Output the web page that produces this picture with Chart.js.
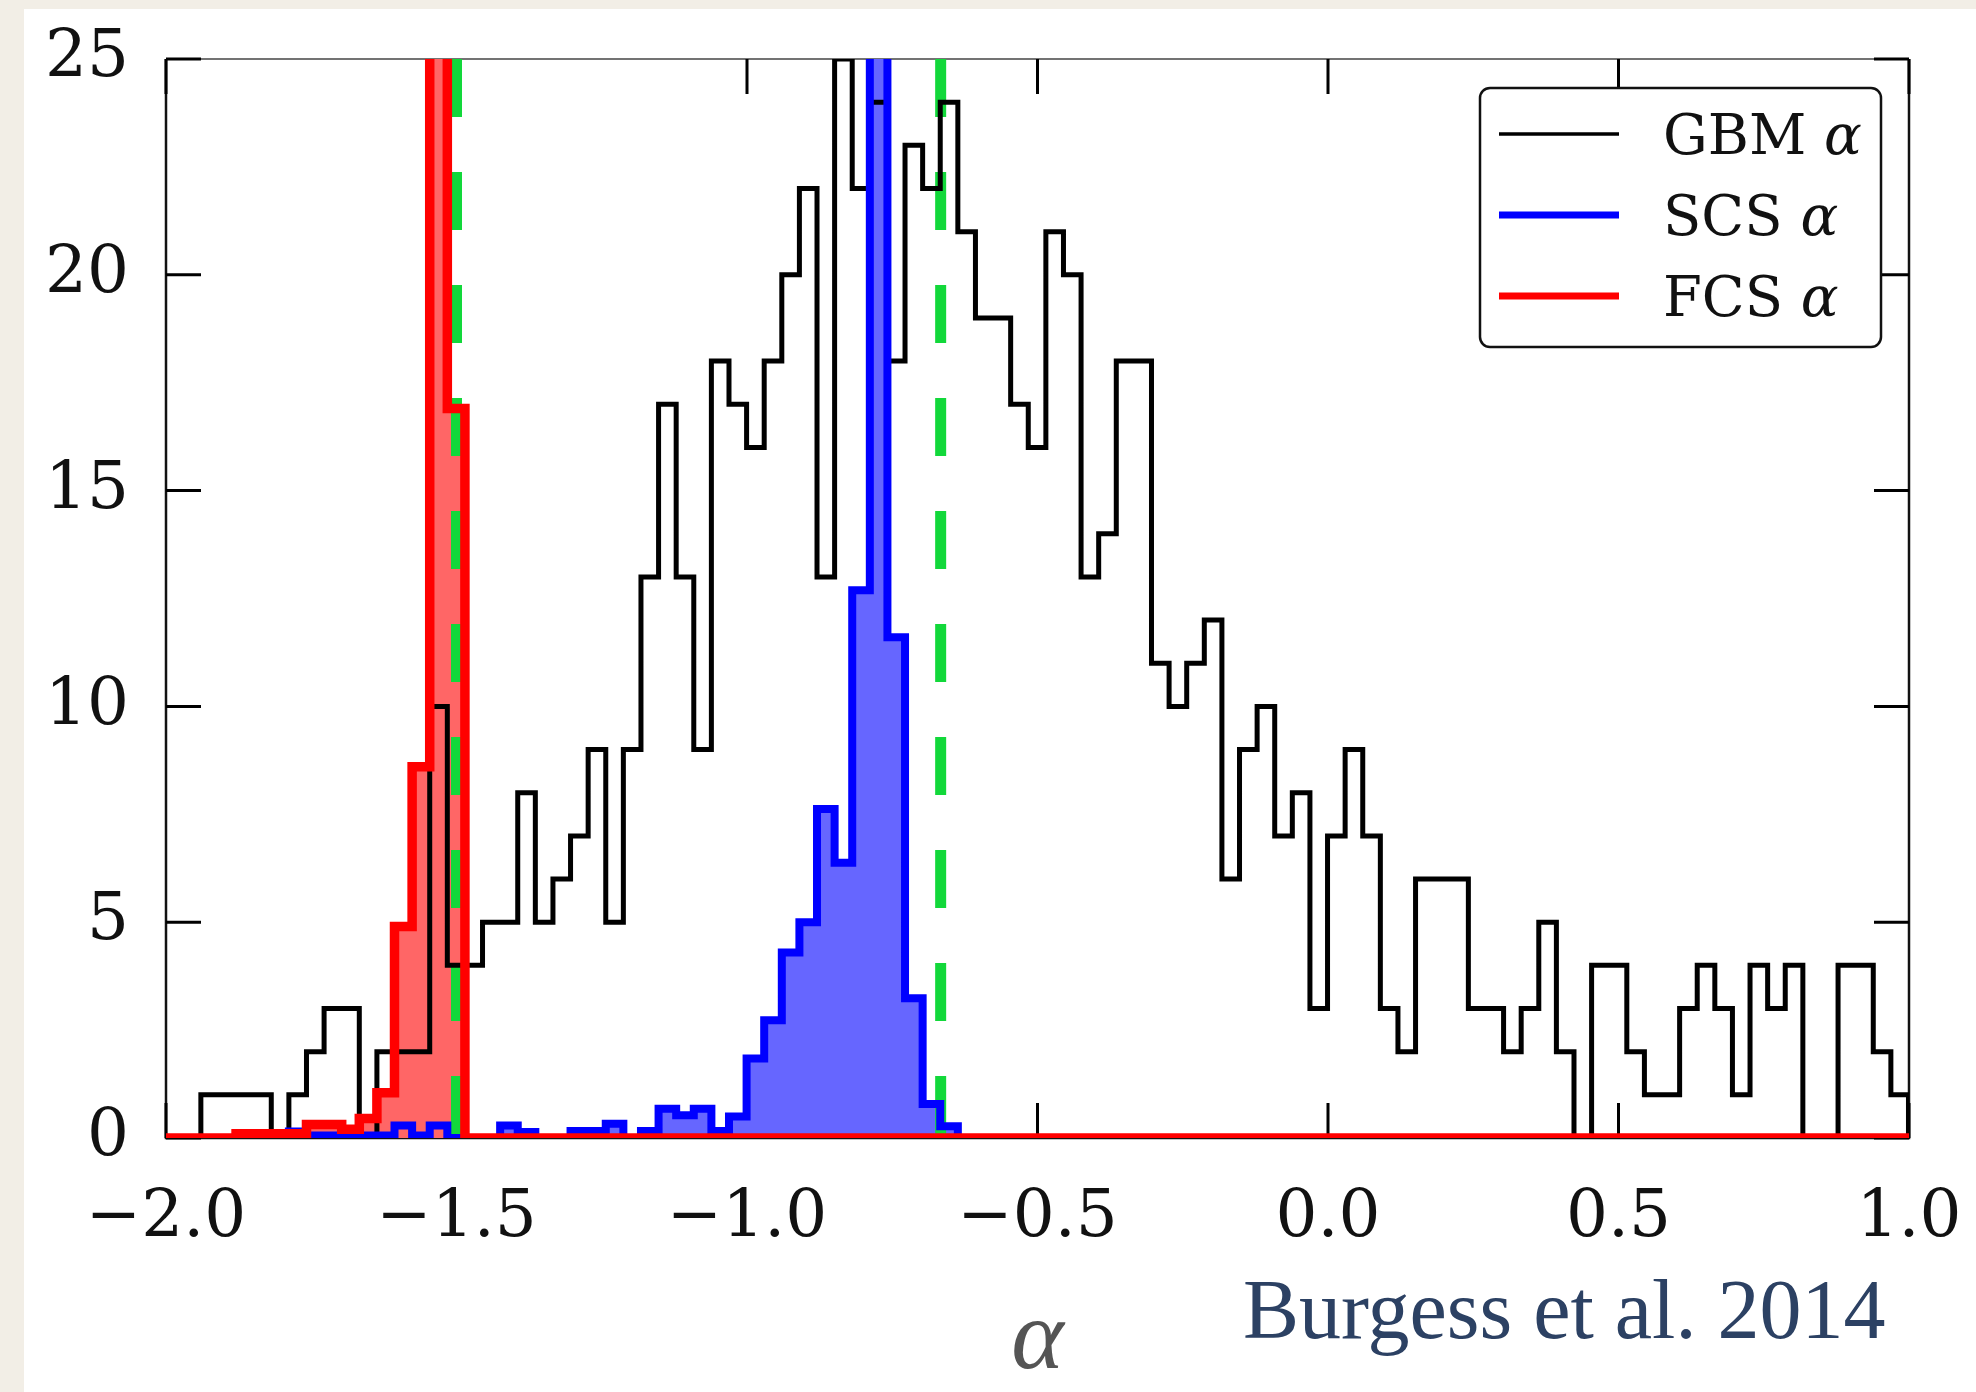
<!DOCTYPE html>
<html>
<head>
<meta charset="utf-8">
<title>Low-energy index distributions</title>
<script src="https://cdn.jsdelivr.net/npm/chart.js@4.4.1/dist/chart.umd.min.js"></script>
<style>
  html, body { margin: 0; padding: 0; background: #fff; }
  #wrap { position: relative; width: 1976px; height: 1392px; }
</style>
</head>
<body>
<div id="wrap"><canvas id="alphaChart" width="1976" height="1392"></canvas></div>
<script>
// binning shared by the three histograms
const binStart = -1.94;
const binWidth = 0.0303;

// GBM catalogue fits (counts per bin)
const gbmCounts = [
  1, 1, 1, 1, 0, 1, 2, 3, 3, 0,
  2, 2, 2, 10, 4, 4, 5, 5, 8, 5,
  6, 7, 9, 5, 9, 13, 17, 13, 9, 18,
  17, 16, 18, 20, 22, 13, 25, 22, 24, 18,
  23, 22, 24, 21, 19, 19, 17, 16, 21, 20,
  13, 14, 18, 18, 11, 10, 11, 12, 6, 9,
  10, 7, 8, 3, 7, 9, 7, 3, 2, 6,
  6, 6, 3, 3, 2, 3, 5, 2, 0, 4,
  4, 2, 1, 1, 3, 4, 3, 1, 4, 3,
  4, 0, 0, 4, 4, 2, 1
];

// slow-cooling synchrotron fits
const scsCounts = [
  0, 0, 0, 0, 0, 0.15, 0.06, 0.06, 0.06, 0.06,
  0.06, 0.29, 0.06, 0.29, 0, 0, 0, 0.29, 0.14, 0,
  0, 0.16, 0.16, 0.33, 0, 0.16, 0.68, 0.53, 0.68, 0.16,
  0.5, 1.84, 2.73, 4.3, 5.0, 7.62, 6.38, 12.69, 34, 11.6,
  3.24, 0.79, 0.27
];

// fast-cooling synchrotron fits
const fcsCounts = [
  0, 0, 0.1, 0.1, 0.1, 0.1, 0.31, 0.31, 0.2, 0.45,
  1.05, 4.9, 8.6, 30, 16.9
];

const deathLines = [-3 / 2, -2 / 3];
const xTicks = [-2.0, -1.5, -1.0, -0.5, 0.0, 0.5, 1.0];
const yTicks = [0, 5, 10, 15, 20, 25];
const seriesNames = ['GBM', 'SCS', 'FCS'];

const serif = 'DejaVu Serif';

// outline of a step histogram: rises at the first edge, drops after the last bin
function stepPoints(counts, padTo) {
  const pts = [];
  if (padTo) pts.push({ x: padTo[0], y: 0 });
  pts.push({ x: binStart, y: 0 });
  counts.forEach((c, i) => pts.push({ x: binStart + i * binWidth, y: c }));
  pts.push({ x: binStart + counts.length * binWidth, y: 0 });
  if (padTo) pts.push({ x: padTo[1], y: 0 });
  return pts;
}

const fmtX = v => v.toFixed(1).replace('-', '\u2212');

// frame with inward ticks on all four sides
const frameTicks = {
  id: 'frameTicks',
  beforeDraw(chart) {
    const { ctx, width, height } = chart;
    ctx.save();
    ctx.fillStyle = '#ffffff';
    ctx.fillRect(0, 0, width, height);
    ctx.fillStyle = '#f2eee6';
    ctx.fillRect(0, 0, 24, height);
    ctx.fillRect(0, 0, width, 9);
    ctx.restore();
  },
  beforeDatasetsDraw(chart) {
    const { ctx, chartArea: a, scales } = chart;
    const len = 35;
    ctx.save();
    ctx.strokeStyle = '#111';
    ctx.lineWidth = 2.5;
    ctx.beginPath();
    ctx.moveTo(a.left, a.top); ctx.lineTo(a.left, a.bottom);
    ctx.lineTo(a.right, a.bottom); ctx.lineTo(a.right, a.top);
    ctx.stroke();
    ctx.lineWidth = 1.5;
    ctx.strokeStyle = '#444';
    ctx.beginPath();
    ctx.moveTo(a.left, a.top); ctx.lineTo(a.right, a.top);
    ctx.stroke();
    ctx.strokeStyle = '#000';
    ctx.lineWidth = 3;
    ctx.beginPath();
    xTicks.forEach(v => {
      const px = scales.x.getPixelForValue(v);
      ctx.moveTo(px, a.bottom); ctx.lineTo(px, a.bottom - len);
      ctx.moveTo(px, a.top); ctx.lineTo(px, a.top + len);
    });
    yTicks.forEach(v => {
      const py = scales.y.getPixelForValue(v);
      ctx.moveTo(a.left, py); ctx.lineTo(a.left + len, py);
      ctx.moveTo(a.right, py); ctx.lineTo(a.right - len, py);
    });
    ctx.stroke();
    ctx.restore();
  }
};

// boxed legend in the upper right, plus the citation
const boxedLegend = {
  id: 'boxedLegend',
  afterDatasetsDraw(chart) {
    const { ctx, chartArea: a } = chart;
    const w = 401, h = 259;
    const x0 = a.right - 28 - w, y0 = a.top + 29;
    ctx.save();
    ctx.beginPath();
    ctx.roundRect(x0, y0, w, h, 10);
    ctx.fillStyle = '#fff';
    ctx.fill();
    ctx.lineWidth = 2.5;
    ctx.strokeStyle = '#111';
    ctx.stroke();

    const samples = chart.data.datasets.filter(d => d.legendRow !== undefined);
    samples.forEach(d => {
      const rowY = y0 + 46 + d.legendRow * 81;
      ctx.beginPath();
      ctx.moveTo(x0 + 19, rowY);
      ctx.lineTo(x0 + 139, rowY);
      ctx.strokeStyle = d.borderColor;
      ctx.lineWidth = d.legendWidth;
      ctx.lineCap = 'butt';
      ctx.stroke();

      ctx.fillStyle = '#111';
      ctx.textBaseline = 'alphabetic';
      ctx.font = `56px "${serif}"`;
      const base = rowY + 20;
      const name = d.label + ' ';
      ctx.fillText(name, x0 + 183, base);
      const nw = ctx.measureText(name).width;
      ctx.font = `italic 56px "${serif}"`;
      ctx.fillText('\u03b1', x0 + 183 + nw, base);
    });

    ctx.font = '84px "Liberation Serif"';
    ctx.fillStyle = '#2c4163';
    ctx.textBaseline = 'alphabetic';
    ctx.fillText('Burgess et al. 2014', 1243, 1338);
    ctx.restore();
  }
};

const edges = [-2, 1];

new Chart(document.getElementById('alphaChart'), {
  type: 'line',
  data: {
    datasets: [
      {
        label: seriesNames[2], legendRow: 2, legendWidth: 7,
        data: stepPoints(fcsCounts, edges),
        stepped: true, borderColor: '#ff0000', borderWidth: 9.5, fill: false, order: 0
      },
      {
        label: seriesNames[1], legendRow: 1, legendWidth: 7,
        data: stepPoints(scsCounts, edges),
        stepped: true, borderColor: '#0000ff', borderWidth: 8, fill: false, order: 1
      },
      {
        label: seriesNames[0], legendRow: 0, legendWidth: 3.5,
        data: stepPoints(gbmCounts),
        stepped: true, borderColor: '#000000', borderWidth: 5, fill: false, order: 2
      },
      ...deathLines.map((v, i) => ({
        label: 'line' + i,
        data: [{ x: v, y: 25 }, { x: v, y: 0 }],
        borderColor: '#12d83a', borderWidth: 11, borderDash: [58, 55],
        borderCapStyle: 'butt', fill: false, order: 3
      })),
      {
        label: 'fcsFill',
        data: stepPoints(fcsCounts, edges),
        stepped: true, borderWidth: 0, borderColor: 'rgba(0,0,0,0)',
        backgroundColor: '#ff6666', fill: 'origin', order: 4
      },
      {
        label: 'scsFill',
        data: stepPoints(scsCounts, edges),
        stepped: true, borderWidth: 0, borderColor: 'rgba(0,0,0,0)',
        backgroundColor: '#6666ff', fill: 'origin', order: 5
      }
    ]
  },
  options: {
    responsive: false,
    animation: false,
    devicePixelRatio: 1,
    events: [],
    layout: { padding: { top: 59, right: 67, left: 0, bottom: 0 } },
    elements: { point: { radius: 0 }, line: { tension: 0 } },
    plugins: {
      legend: { display: false },
      tooltip: { enabled: false }
    },
    scales: {
      x: {
        type: 'linear', min: -2, max: 1,
        afterBuildTicks: s => { s.ticks = xTicks.map(v => ({ value: v })); },
        ticks: {
          callback: v => fmtX(v), autoSkip: false, maxRotation: 0,
          padding: 33, color: '#111', font: { family: serif, size: 66 }
        },
        grid: { display: false },
        border: { display: false },
        title: {
          display: true, text: '\u03b1', color: '#555',
          font: { family: 'Liberation Serif', size: 100, style: 'italic', lineHeight: 1.0 },
          padding: { top: 0, bottom: 0 }
        },
        afterFit: s => { s.height = 254; s.paddingLeft = 0; s.paddingRight = 0; }
      },
      y: {
        type: 'linear', min: 0, max: 25,
        afterBuildTicks: s => { s.ticks = yTicks.map(v => ({ value: v })); },
        ticks: {
          callback: v => String(v), padding: 29, color: '#111',
          font: { family: serif, size: 66 }
        },
        grid: { display: false },
        border: { display: false },
        afterFit: s => { s.width = 166; s.paddingTop = 0; s.paddingBottom = 0; }
      }
    }
  },
  plugins: [frameTicks, boxedLegend]
});
</script>
</body>
</html>
